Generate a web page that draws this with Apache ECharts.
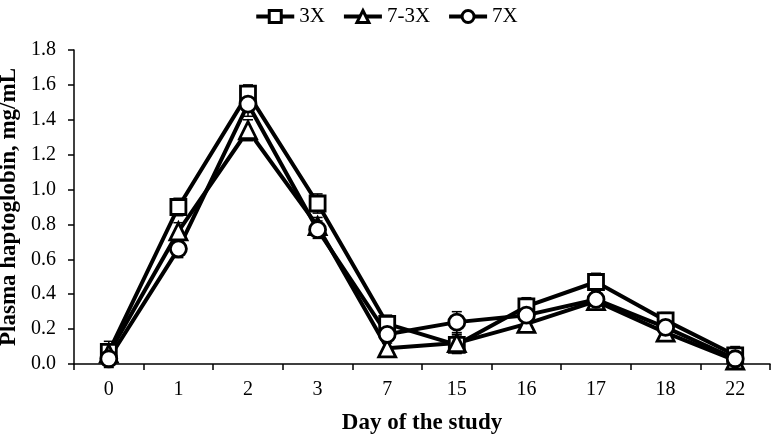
<!DOCTYPE html>
<html><head><meta charset="utf-8">
<script src="https://cdn.jsdelivr.net/npm/echarts@6/dist/echarts.min.js"></script>
<style>html,body{margin:0;padding:0;background:#fff}#c{width:772px;height:435px}</style>
</head><body><div id="c"></div>
<script>
const days = ['0','1','2','3','7','15','16','17','18','22'];
const yTicks = [0,0.2,0.4,0.6,0.8,1.0,1.2,1.4,1.6,1.8];
const s3X = [0.07,0.90,1.55,0.92,0.23,0.11,0.33,0.47,0.25,0.05];
const s3Xerr = [0.06,0.05,0.05,0.055,0.05,0.05,0.05,0.05,0.045,0.05];
const s73X = [0.06,0.76,1.34,0.79,0.09,0.12,0.23,0.36,0.18,0.02];
const s73Xerr = [0.05,0.05,0.06,0.05,0.045,0.05,0.045,0.05,0.04,0.04];
const s7X = [0.03,0.66,1.49,0.77,0.17,0.24,0.28,0.37,0.21,0.03];
const s7Xerr = [0.05,0.05,0.07,0.05,0.05,0.06,0.05,0.05,0.05,0.05];
const names = ['3X','7-3X','7X'];
const symbols = ['rect','triangle','circle'];
const FONT = 'Liberation Serif';

const chart = echarts.init(document.getElementById('c'), null, {renderer:'canvas'});

function errSeries(vals, errs, z) {
  return {
    type:'custom', silent:true, z:z,
    data: vals.map((v,i)=>[i, v-errs[i], v+errs[i]]),
    renderItem: function(params, api){
      const x = api.value(0);
      const lo = api.coord([x, api.value(1)]);
      const hi = api.coord([x, api.value(2)]);
      const w = 5;
      const st = {stroke:'#000', lineWidth:1.5};
      return {type:'group', children:[
        {type:'line', shape:{x1:lo[0],y1:lo[1],x2:hi[0],y2:hi[1]}, style:st},
        {type:'line', shape:{x1:lo[0]-w,y1:lo[1],x2:lo[0]+w,y2:lo[1]}, style:st},
        {type:'line', shape:{x1:hi[0]-w,y1:hi[1],x2:hi[0]+w,y2:hi[1]}, style:st}
      ]};
    }
  };
}
function lineSeries(name, vals, sym, size) {
  return {
    name:name, type:'line', data:vals, symbol:sym, symbolSize:size,
    lineStyle:{color:'#000', width:4},
    itemStyle:{color:'#fff', borderColor:'#000', borderWidth:2.8},
    z:5
  };
}

chart.setOption({
  animation:false,
  legend:{
    top:1, left:'center', itemGap:17, itemWidth:38, itemHeight:15,
    textStyle:{fontFamily:FONT, fontSize:21, color:'#000'},
    lineStyle:{width:4, color:'#000'},
    itemStyle:{color:'#fff', borderColor:'#000', borderWidth:3},
    data:names
  },
  grid:{left:74, right:2, top:50, bottom:71, containLabel:false, outerBoundsMode:'none'},
  xAxis:{
    type:'category', data:days, boundaryGap:true,
    name:'Day of the study', nameLocation:'middle', nameGap:48,
    nameTextStyle:{fontFamily:FONT, fontSize:23, fontWeight:'bold', color:'#000'},
    axisLine:{lineStyle:{color:'#000', width:1.5}},
    axisTick:{show:true, length:6, lineStyle:{color:'#000', width:1.5}},
    axisLabel:{fontFamily:FONT, fontSize:20, color:'#000', margin:16}
  },
  yAxis:{
    type:'value', min:0, max:1.8, interval:0.2,
    name:'Plasma haptoglobin, mg/mL', nameLocation:'middle', nameGap:45,
    nameTextStyle:{fontFamily:FONT, fontSize:23, fontWeight:'bold', color:'#000'},
    axisLine:{show:true, lineStyle:{color:'#000', width:1.5}},
    axisTick:{show:true, length:6, lineStyle:{color:'#000', width:1.5}},
    splitLine:{show:false},
    axisLabel:{fontFamily:FONT, fontSize:20, color:'#000', margin:18,
      formatter:function(v){ const t = yTicks.find(k=>Math.abs(k-v)<1e-9); return (t===undefined?v:t).toFixed(1); }}
  },
  series:[
    errSeries(s3X, s3Xerr, 2),
    errSeries(s73X, s73Xerr, 2),
    errSeries(s7X, s7Xerr, 2),
    lineSeries(names[0], s3X, symbols[0], 15),
    lineSeries(names[1], s73X, symbols[1], 17),
    lineSeries(names[2], s7X, symbols[2], 16)
  ]
});
</script></body></html>
